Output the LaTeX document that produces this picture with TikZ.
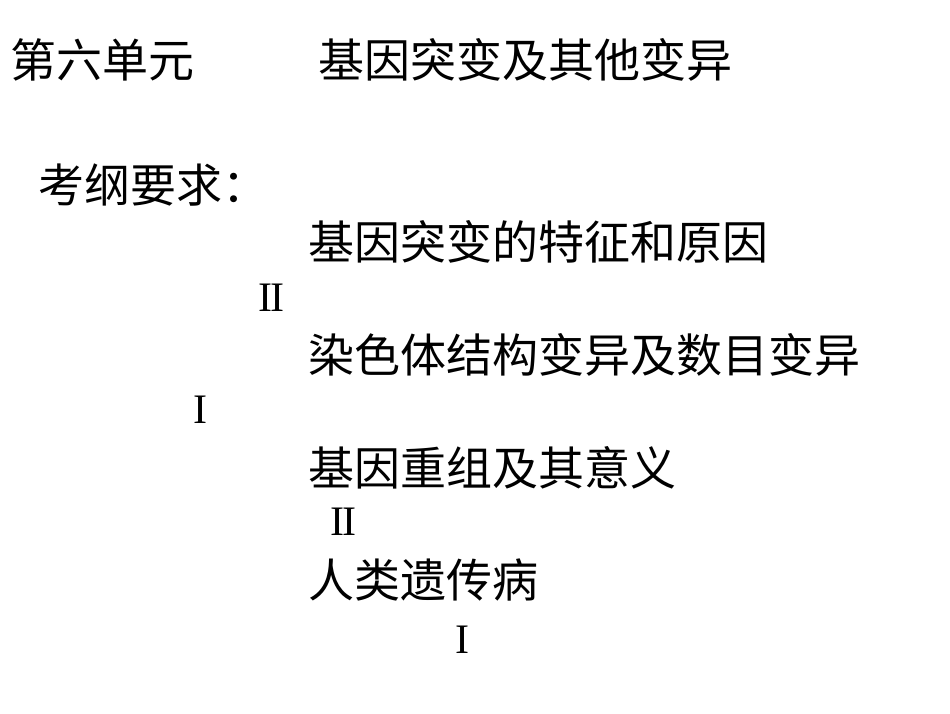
\documentclass[tikz,border=0pt]{standalone}
\usepackage{fontspec}
\newfontfamily\cjk{Noto Sans CJK SC}
\newfontfamily\rom{Liberation Serif}
\begin{document}
\begin{tikzpicture}[x=1pt,y=-1pt]
\tikzset{t/.style={anchor=west,inner sep=0pt,font=\cjk\fontsize{46}{46}\selectfont},
 r/.style={anchor=west,inner sep=0pt,font=\rom\fontsize{42}{42}\selectfont}}
\useasboundingbox (0,0) rectangle (950,713);
\node[t] (a) at (10,60) {第六单元};
\node[t] (b) at (318,60) {基因突变及其他变异};
\node[t] (c) at (38,185) {考纲要求：};
\node[t] (d) at (308,242) {基因突变的特征和原因};
\node[r] (e) at (258,298) {I\kern-2pt I};
\node[t] (f) at (308,355) {染色体结构变异及数目变异};
\node[r] (g) at (193,410) {I};
\node[t] (h) at (308,468) {基因重组及其意义};
\node[r] (i) at (330,522) {I\kern-2pt I};
\node[t] (j) at (308,580) {人类遗传病};
\node[r] (k) at (455,640) {I};
\end{tikzpicture}
\end{document}
